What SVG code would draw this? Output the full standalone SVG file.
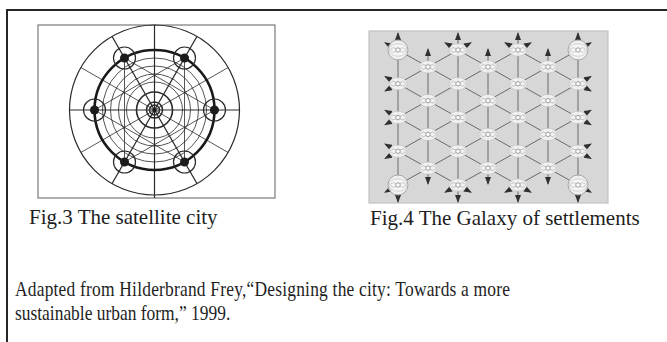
<svg xmlns="http://www.w3.org/2000/svg" width="667" height="342" viewBox="0 0 667 342">
<style>
.txt{font-family:"Liberation Serif","Times New Roman",serif;font-size:21px;fill:#1e1e1e}
.cap{font-family:"Liberation Serif","Times New Roman",serif;font-size:20.5px;fill:#1e1e1e}
.f3{fill:none;stroke:#2a2a2a}
.thin{stroke-width:0.8}
.lat{stroke:#6a6a6a;stroke-width:1;fill:none}
.arw{stroke:#6a6a6a;stroke-width:1;fill:none;marker-end:url(#ah)}
.vert{stroke:#6a6a6a;stroke-width:1;fill:none;marker-start:url(#ah);marker-end:url(#ah)}
</style>
<defs>
<marker id="ah" markerUnits="userSpaceOnUse" markerWidth="8" markerHeight="6" refX="7" refY="3" orient="auto-start-reverse">
<path d="M0,0 L8,3 L0,6 z" fill="#303030"/>
</marker>
<g id="nd">
<ellipse rx="9" ry="6.2" fill="#f7f7f7" fill-opacity="0.85" stroke="#bdbdbd" stroke-width="0.6"/>
<ellipse cx="-4.5" rx="3" ry="2.2" fill="none" stroke="#b0b0b0" stroke-width="0.6"/>
<ellipse cx="4.5" rx="3" ry="2.2" fill="none" stroke="#b0b0b0" stroke-width="0.6"/>
<circle r="2.2" fill="#fff" stroke="#8a8a8a" stroke-width="0.8"/>
</g>
<g id="cn">
<circle r="10" fill="#f4f4f4" fill-opacity="0.9" stroke="#a8a8a8" stroke-width="1"/>
<use href="#nd"/>
</g>
</defs>

<g id="frame">
<path d="M7,342 L7,10 L667,10" fill="none" stroke="#262626" stroke-width="2"/>
</g>

<g id="fig3">
<rect x="38" y="25" width="237" height="173" fill="#fff" stroke="#7a7a7a" stroke-width="1.2"/>
<g class="f3">
<circle cx="154.5" cy="110" r="85" stroke-width="1.2"/>
<line x1="154.5" y1="25" x2="154.5" y2="198" stroke-width="1.2"/>
<line x1="69.5" y1="110" x2="239.5" y2="110" stroke-width="1.2"/>
<line x1="197" y1="36.4" x2="112" y2="183.6" stroke-width="1.1"/>
<line x1="112" y1="36.4" x2="197" y2="183.6" stroke-width="1.1"/>
<line x1="228.1" y1="67.5" x2="80.9" y2="152.5" class="thin"/>
<line x1="80.9" y1="67.5" x2="228.1" y2="152.5" class="thin"/>
<circle cx="154.5" cy="110" r="28" class="thin"/>
<circle cx="154.5" cy="110" r="36" class="thin"/>
<circle cx="154.5" cy="110" r="44" class="thin"/>
<circle cx="154.5" cy="110" r="52" class="thin"/>
<polygon points="214.5,110 124.5,58 124.5,162" class="thin"/>
<polygon points="94.5,110 184.5,58 184.5,162" class="thin"/>
<circle cx="154.5" cy="110" r="60" stroke-width="2.6" stroke="#1a1a1a"/>
<circle cx="154.5" cy="110" r="18" stroke-width="1.6"/>
<circle cx="154.5" cy="110" r="8" stroke-width="1.5"/>
<circle cx="154.5" cy="110" r="5" stroke-width="1.5"/>
</g>
<circle cx="154.5" cy="110" r="2.2" fill="#1a1a1a"/>
<g id="satellites" class="f3" stroke-width="1.2">
<circle cx="214.5" cy="110" r="11"/>
<circle cx="184.5" cy="58" r="11"/>
<circle cx="124.5" cy="58" r="11"/>
<circle cx="94.5" cy="110" r="11"/>
<circle cx="124.5" cy="162" r="11"/>
<circle cx="184.5" cy="162" r="11"/>
</g>
<g fill="#1c1c1c">
<circle cx="214.5" cy="110" r="4.5"/>
<circle cx="184.5" cy="58" r="4.5"/>
<circle cx="124.5" cy="58" r="4.5"/>
<circle cx="94.5" cy="110" r="4.5"/>
<circle cx="124.5" cy="162" r="4.5"/>
<circle cx="184.5" cy="162" r="4.5"/>
</g>
</g>

<g id="fig4">
<rect x="369" y="31" width="239" height="172" fill="#d7d7d7" stroke="#c2c2c2" stroke-width="1.2"/>
<g id="connectors">
<line class="vert" x1="398" y1="33" x2="398" y2="202"/>
<line class="vert" x1="458" y1="33" x2="458" y2="202"/>
<line class="vert" x1="518" y1="33" x2="518" y2="202"/>
<line class="vert" x1="578" y1="33" x2="578" y2="202"/>
<line class="vert" x1="428" y1="49" x2="428" y2="184"/>
<line class="vert" x1="488" y1="49" x2="488" y2="184"/>
<line class="vert" x1="548" y1="49" x2="548" y2="184"/>
<line class="lat" x1="398" y1="50" x2="578" y2="151.25"/>
<line class="lat" x1="398" y1="83.75" x2="578" y2="185"/>
<line class="lat" x1="398" y1="117.5" x2="518" y2="185"/>
<line class="lat" x1="398" y1="151.25" x2="458" y2="185"/>
<line class="lat" x1="458" y1="50" x2="578" y2="117.5"/>
<line class="lat" x1="518" y1="50" x2="578" y2="83.75"/>
<line class="lat" x1="398" y1="185" x2="578" y2="83.75"/>
<line class="lat" x1="398" y1="151.25" x2="578" y2="50"/>
<line class="lat" x1="398" y1="117.5" x2="518" y2="50"/>
<line class="lat" x1="398" y1="83.75" x2="458" y2="50"/>
<line class="lat" x1="458" y1="185" x2="578" y2="117.5"/>
<line class="lat" x1="518" y1="185" x2="578" y2="151.25"/>
<line class="arw" x1="398" y1="50" x2="385" y2="42.7"/>
<line class="arw" x1="398" y1="83.75" x2="385" y2="76.45"/>
<line class="arw" x1="398" y1="117.5" x2="385" y2="110.2"/>
<line class="arw" x1="398" y1="151.25" x2="385" y2="143.95"/>
<line class="arw" x1="458" y1="50" x2="445" y2="42.7"/>
<line class="arw" x1="518" y1="50" x2="505" y2="42.7"/>
<line class="arw" x1="578" y1="151.25" x2="591" y2="158.55"/>
<line class="arw" x1="578" y1="185" x2="591" y2="192.3"/>
<line class="arw" x1="518" y1="185" x2="531" y2="192.3"/>
<line class="arw" x1="458" y1="185" x2="471" y2="192.3"/>
<line class="arw" x1="578" y1="117.5" x2="591" y2="124.8"/>
<line class="arw" x1="578" y1="83.75" x2="591" y2="91.05"/>
<line class="arw" x1="398" y1="185" x2="385" y2="192.3"/>
<line class="arw" x1="398" y1="151.25" x2="385" y2="158.55"/>
<line class="arw" x1="398" y1="117.5" x2="385" y2="124.8"/>
<line class="arw" x1="398" y1="83.75" x2="385" y2="91.05"/>
<line class="arw" x1="458" y1="185" x2="445" y2="192.3"/>
<line class="arw" x1="518" y1="185" x2="505" y2="192.3"/>
<line class="arw" x1="578" y1="83.75" x2="591" y2="76.45"/>
<line class="arw" x1="578" y1="50" x2="591" y2="42.7"/>
<line class="arw" x1="518" y1="50" x2="531" y2="42.7"/>
<line class="arw" x1="458" y1="50" x2="471" y2="42.7"/>
<line class="arw" x1="578" y1="117.5" x2="591" y2="110.2"/>
<line class="arw" x1="578" y1="151.25" x2="591" y2="143.95"/>
</g>
<g id="nodes">
<use href="#cn" x="398" y="50"/>
<use href="#nd" x="398" y="83.75"/>
<use href="#nd" x="398" y="117.5"/>
<use href="#nd" x="398" y="151.25"/>
<use href="#cn" x="398" y="185"/>
<use href="#nd" x="458" y="50"/>
<use href="#nd" x="458" y="83.75"/>
<use href="#nd" x="458" y="117.5"/>
<use href="#nd" x="458" y="151.25"/>
<use href="#nd" x="458" y="185"/>
<use href="#nd" x="518" y="50"/>
<use href="#nd" x="518" y="83.75"/>
<use href="#nd" x="518" y="117.5"/>
<use href="#nd" x="518" y="151.25"/>
<use href="#nd" x="518" y="185"/>
<use href="#cn" x="578" y="50"/>
<use href="#nd" x="578" y="83.75"/>
<use href="#nd" x="578" y="117.5"/>
<use href="#nd" x="578" y="151.25"/>
<use href="#cn" x="578" y="185"/>
<use href="#nd" x="428" y="66.875"/>
<use href="#nd" x="428" y="100.625"/>
<use href="#nd" x="428" y="134.375"/>
<use href="#nd" x="428" y="168.125"/>
<use href="#nd" x="488" y="66.875"/>
<use href="#nd" x="488" y="100.625"/>
<use href="#nd" x="488" y="134.375"/>
<use href="#nd" x="488" y="168.125"/>
<use href="#nd" x="548" y="66.875"/>
<use href="#nd" x="548" y="100.625"/>
<use href="#nd" x="548" y="134.375"/>
<use href="#nd" x="548" y="168.125"/>
</g>
</g>

<g id="captions">
<text class="txt" x="29" y="224">Fig.3 The satellite city</text>
<text class="txt" x="370" y="225">Fig.4 The Galaxy of settlements</text>
<g transform="scale(0.85,1)">
<text class="cap" x="17.65" y="296" textLength="582.4" lengthAdjust="spacing">Adapted from Hilderbrand Frey,“Designing the city: Towards a more</text>
<text class="cap" x="17.65" y="320">sustainable urban form,” 1999.</text>
</g>
</g>
</svg>
